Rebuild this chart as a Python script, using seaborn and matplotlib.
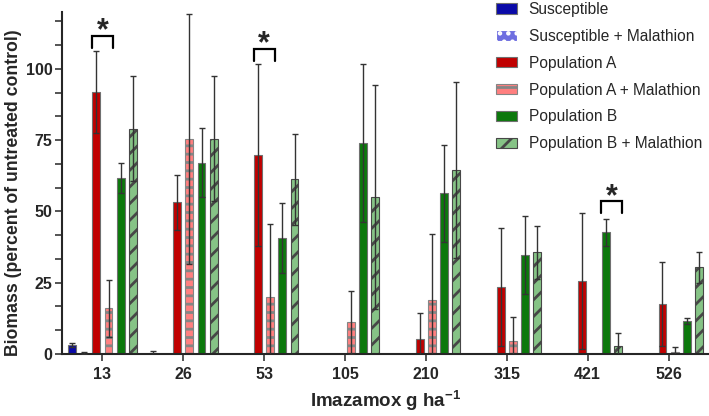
import numpy as np
import pandas as pd
import matplotlib.pyplot as plt
import seaborn as sns
from matplotlib.patches import Patch
from matplotlib.ticker import AutoMinorLocator

# Datos (media y error de cada grupo)
doses = ["13", "26", "53", "105", "210", "315", "421", "526"]
groups = ["Susceptible", "Susceptible + Malathion", "Population A",
          "Population A + Malathion", "Population B", "Population B + Malathion"]

susc = [3.0, 0.3, 0, 0, 0, 0, 0, 0]
susc_err = [0.7, 0.6, np.nan, np.nan, np.nan, np.nan, np.nan, np.nan]
susc_mal = [0.4, 0, 0, 0, 0, 0, 0, 0]
susc_mal_err = [0.3, np.nan, np.nan, np.nan, np.nan, np.nan, np.nan, np.nan]
pop_a = [91.8, 53.2, 69.8, 0, 5.3, 23.4, 25.6, 17.4]
pop_a_err = [14.4, 9.7, 32.0, np.nan, 9.2, 20.6, 23.9, 14.7]
pop_a_mal = [16.0, 75.4, 20.1, 11.1, 19.0, 4.7, 0, 0.6]
pop_a_mal_err = [10.0, 43.7, 25.3, 11.0, 22.9, 8.2, np.nan, 1.9]
pop_b = [61.7, 67.1, 40.8, 74.0, 56.4, 34.7, 42.6, 11.5]
pop_b_err = [5.4, 12.0, 12.3, 27.8, 17.0, 13.6, 4.9, 1.0]
pop_b_mal = [79.0, 75.4, 61.3, 55.0, 64.6, 35.6, 2.8, 30.4]
pop_b_mal_err = [18.5, 21.9, 16.0, 39.3, 30.9, 9.3, 4.5, 5.5]

means = [susc, susc_mal, pop_a, pop_a_mal, pop_b, pop_b_mal]
errors = [susc_err, susc_mal_err, pop_a_err, pop_a_mal_err, pop_b_err, pop_b_mal_err]

# Diferencias significativas: dosis, par de grupos, altura del corchete
sig_dose = ["13", "53", "421"]
sig_pair = [(2, 3), (2, 3), (4, 5)]
sig_top = [111.6, 106.9, 53.5]

df = pd.DataFrame({
    "dose": doses * len(groups),
    "group": np.repeat(groups, len(doses)),
    "biomass": np.concatenate(means),
})

colors = ["#0a0aa8", "#6e6ee0", "#c00000", "#ff7f7f", "#0c780c", "#86c386"]
hatches = [None, "..", None, "--", None, "//"]
edges = ["#707070", "white", "#707070", "#858585", "#707070", "#474747"]

sns.set_style("ticks")
plt.rcParams["font.family"] = ["Liberation Sans", "DejaVu Sans"]
plt.rcParams["mathtext.fontset"] = "custom"
plt.rcParams["mathtext.bf"] = "Liberation Sans:bold"
plt.rcParams["mathtext.rm"] = "Liberation Sans:bold"
plt.rcParams["mathtext.default"] = "bf"
plt.rcParams["hatch.linewidth"] = 2.0

fig = plt.figure(figsize=(7.09, 4.16), dpi=100)
ax = fig.add_axes([62 / 709, 62 / 416, 647 / 709, 342.3 / 416])

sns.barplot(
    data=df, x="dose", y="biomass", hue="group",
    order=doses, hue_order=groups, palette=colors, saturation=1,
    width=0.9, gap=0.35, errorbar=None, legend=False,
    linewidth=0.8, edgecolor="#707070", ax=ax,
)

# Tramas y barras de error
for cont, h, ec, m, e in zip(ax.containers, hatches, edges, means, errors):
    xs = []
    for bar in cont:
        xs.append(bar.get_x() + bar.get_width() / 2)
        if h:
            bar.set_hatch(h)
            bar.set_edgecolor(ec)
    xs = np.array(xs)
    m = np.array(m, dtype=float)
    e = np.array(e, dtype=float)
    ok = ~np.isnan(e)
    ax.errorbar(xs[ok], m[ok], yerr=e[ok], fmt="none", ecolor="#333333",
                elinewidth=1, capsize=2.4, capthick=1, zorder=4)

# Corchetes con asterisco
for d, (g1, g2), top in zip(sig_dose, sig_pair, sig_top):
    i = doses.index(d)
    b1 = ax.containers[g1][i]
    b2 = ax.containers[g2][i]
    mid = (b1.get_x() + b2.get_x() + b2.get_width()) / 2
    x0, x1 = mid - 0.13, mid + 0.13
    ax.plot([x0, x0, x1, x1], [top - 4.2, top, top, top - 4.2],
            color="black", lw=1.6, solid_joinstyle="miter", clip_on=False)
    ax.annotate("*", (mid, top + 4.6), xytext=(0, -12), textcoords="offset points",
                ha="center", va="baseline", fontsize=22, fontweight="bold")

ax.set_ylim(0, 120)
ax.set_xlim(-0.5, 7.5)
ax.set_yticks([0, 25, 50, 75, 100])
ax.yaxis.set_minor_locator(AutoMinorLocator(3))
sns.despine(ax=ax)
for s in ["left", "bottom"]:
    ax.spines[s].set_linewidth(1.5)
ax.tick_params(axis="both", which="both", direction="out", length=5, width=1.1,
               labelsize=11.5)
ax.tick_params(axis="y", pad=2)
ax.tick_params(axis="x", pad=4.5)
ax.tick_params(axis="x", which="minor", bottom=False)
for lab in ax.get_xticklabels() + ax.get_yticklabels():
    lab.set_fontweight("bold")

ax.set_xlabel("Imazamox g ha$^{-1}$", fontsize=13.5, fontweight="bold", labelpad=5)
ax.set_ylabel("Biomass (percent of untreated control)", fontsize=12.7,
              fontweight="bold")
ax.yaxis.set_label_coords(-0.062, 0.47)

handles = [Patch(facecolor=c, hatch=h, edgecolor=ec, linewidth=0.8)
           for c, h, ec in zip(colors, hatches, edges)]
fig.legend(handles, groups, loc="upper left", bbox_to_anchor=(496 / 709, 0.995),
           frameon=False, borderpad=0, borderaxespad=0, fontsize=11.2,
           handlelength=1.35, handleheight=0.65, handletextpad=0.75,
           labelspacing=0.76)

fig.savefig("out.png", dpi=100)
